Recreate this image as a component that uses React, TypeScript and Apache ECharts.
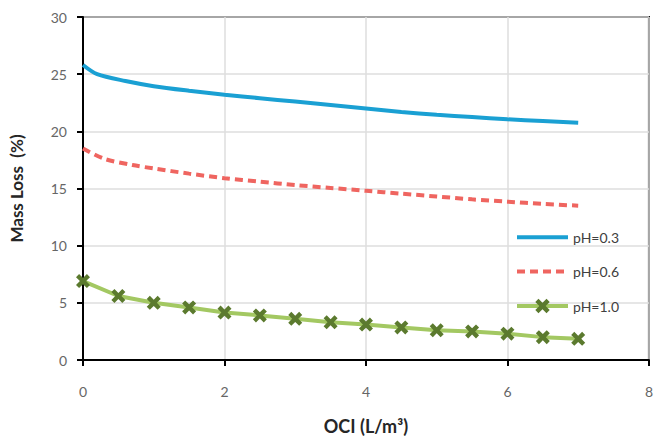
import React, { useEffect, useRef } from "react";
import * as echarts from "echarts";

const xBlue = [0, 0.2, 0.6, 1, 1.5, 2, 2.5, 3, 3.5, 4, 4.5, 5, 5.5, 6, 6.5, 7];
const yBlue = [25.8, 25.0, 24.4, 23.95, 23.55, 23.2, 22.9, 22.6, 22.3, 22.0, 21.7, 21.45, 21.25, 21.05, 20.9, 20.75];
const xRed = [0, 0.3, 0.7, 1, 1.5, 2, 2.5, 3, 3.5, 4, 4.5, 5, 5.5, 6, 6.5, 7];
const yRed = [18.5, 17.6, 17.05, 16.75, 16.3, 15.9, 15.6, 15.3, 15.05, 14.8, 14.55, 14.3, 14.05, 13.85, 13.65, 13.5];
const xGreen = [0, 0.5, 1, 1.5, 2, 2.5, 3, 3.5, 4, 4.5, 5, 5.5, 6, 6.5, 7];
const yGreen = [6.9, 5.6, 5.0, 4.6, 4.15, 3.9, 3.6, 3.3, 3.1, 2.85, 2.6, 2.5, 2.3, 2.0, 1.85];
const seriesNames = ["pH=0.3", "pH=0.6", "pH=1.0"];
const xTitle = "OCI (L/m³)";
const yTitle = "Mass Loss  (%)";

const zip = (xs: number[], ys: number[]) => xs.map((x, i) => [x, ys[i]]);

const crossPath =
  "path://M0,2.2 L2.2,0 L5,2.8 L7.8,0 L10,2.2 L7.2,5 L10,7.8 L7.8,10 L5,7.2 L2.2,10 L0,7.8 L2.8,5 Z";

const FONT = "Lato, 'Open Sans', sans-serif";

export default function App() {
  const ref = useRef<HTMLDivElement>(null);
  useEffect(() => {
    if (!ref.current) return;
    const chart = echarts.init(ref.current, null, { renderer: "svg" });
    chart.setOption({
      animation: false,
      textStyle: { fontFamily: FONT },
      grid: {
        left: 83,
        right: 2,
        top: 17,
        bottom: 81,
        show: true,
        borderColor: "#000",
        borderWidth: 2,
      },
      legend: {
        orient: "vertical",
        left: 510,
        top: 225,
        itemWidth: 51,
        itemHeight: 18,
        itemGap: 20,
        lineStyle: { width: 4 },
        textStyle: { fontSize: 14, color: "#404040", fontFamily: FONT },
        data: [
          { name: seriesNames[0], itemStyle: { opacity: 0 } },
          { name: seriesNames[1], itemStyle: { opacity: 0 } },
          { name: seriesNames[2] },
        ],
      },
      xAxis: {
        type: "value",
        min: 0,
        max: 8,
        interval: 2,
        name: xTitle,
        nameLocation: "middle",
        nameGap: 57,
        nameTextStyle: { fontSize: 18, fontWeight: "bold", color: "#262626", fontFamily: FONT },
        axisLine: { lineStyle: { color: "#000", width: 2 } },
        axisTick: { show: true, inside: false, length: 6, lineStyle: { color: "#000", width: 2 } },
        axisLabel: { margin: 24, fontSize: 14, color: "#666" },
        splitLine: { show: true, lineStyle: { color: "#dedede", width: 1.5 } },
      },
      yAxis: {
        type: "value",
        min: 0,
        max: 30,
        interval: 5,
        name: yTitle,
        nameLocation: "middle",
        nameGap: 58,
        nameTextStyle: { fontSize: 17, fontWeight: "bold", color: "#262626", fontFamily: FONT },
        axisLine: { show: true, lineStyle: { color: "#000", width: 2 } },
        axisTick: { show: true, inside: false, length: 6, lineStyle: { color: "#000", width: 2 } },
        axisLabel: { margin: 16, fontSize: 14, color: "#666" },
        splitLine: { show: true, lineStyle: { color: "#dedede", width: 1.5 } },
      },
      series: [
        {
          name: seriesNames[0],
          type: "line",
          data: zip(xBlue, yBlue),
          symbol: "none",
          smooth: 0.3,
          color: "#1aa0d3",
          lineStyle: { color: "#1aa0d3", width: 4 },
        },
        {
          name: seriesNames[1],
          type: "line",
          data: zip(xRed, yRed),
          symbol: "none",
          smooth: 0.3,
          color: "#ef6560",
          lineStyle: { color: "#ef6560", width: 4, type: [8, 5] },
        },
        {
          name: seriesNames[2],
          type: "line",
          data: zip(xGreen, yGreen),
          symbol: crossPath,
          symbolSize: 14,
          showAllSymbol: true,
          color: "#5b7a2e",
          itemStyle: { color: "#5b7a2e" },
          lineStyle: { color: "#a3c862", width: 4 },
        },
      ],
    });
    return () => chart.dispose();
  }, []);
  return <div ref={ref} style={{ width: 656, height: 441, position: "absolute", left: 0, top: 0, background: "#fff" }} />;
}
